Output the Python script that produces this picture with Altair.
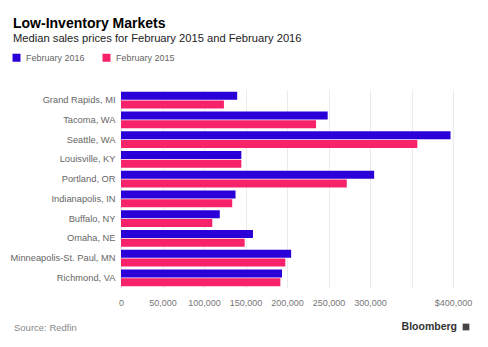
import altair as alt
import pandas as pd

cities = ["Grand Rapids, MI", "Tacoma, WA", "Seattle, WA", "Louisville, KY", "Portland, OR",
          "Indianapolis, IN", "Buffalo, NY", "Omaha, NE", "Minneapolis-St. Paul, MN", "Richmond, VA"]
feb2016 = [140000, 249000, 397000, 145000, 305000, 138000, 119000, 159000, 205000, 194000]
feb2015 = [124000, 235000, 357000, 145000, 272000, 134000, 110000, 149000, 198000, 192000]
series = ["February 2016", "February 2015"]
colors = ["#2b00d8", "#f8226b"]
x_ticks = [0, 50000, 100000, 150000, 200000, 250000, 300000, 350000, 400000]

rows = []
for c, a, b in zip(cities, feb2016, feb2015):
    rows.append({"city": c, "series": series[0], "value": a})
    rows.append({"city": c, "series": series[1], "value": b})
df = pd.DataFrame(rows)

FONT = "Liberation Sans"

bars = alt.Chart(df).mark_bar(size=8).encode(
    x=alt.X("value:Q",
            scale=alt.Scale(domain=[0, 400000], nice=False),
            axis=alt.Axis(values=x_ticks, title=None, domain=False, ticks=False,
                          labelExpr="datum.value == 350000 ? '' : (datum.value == 400000 ? '$400,000' : format(datum.value, ','))",
                          labelColor="#777777", labelFont=FONT, labelFontSize=9, labelPadding=10,
                          grid=True, gridColor="#ebebeb", labelFlush=False)),
    y=alt.Y("city:N", sort=cities,
            scale=alt.Scale(paddingInner=0.13, paddingOuter=0.08),
            axis=alt.Axis(title=None, domain=False, ticks=False, labelColor="#666666",
                          labelFont=FONT, labelFontSize=9.3, labelPadding=6, labelLimit=200)),
    yOffset=alt.YOffset("series:N", sort=series, scale=alt.Scale(paddingInner=0.0)),
    color=alt.Color("series:N", sort=series,
                    scale=alt.Scale(domain=series, range=colors),
                    legend=alt.Legend(title=None, orient="none", legendX=-109, legendY=-37,
                                      direction="horizontal", symbolType="square", symbolSize=64,
                                      symbolStrokeWidth=0, labelFont=FONT, labelFontSize=9,
                                      labelColor="#666666", columnPadding=17, labelOffset=5)),
)

title = alt.Chart(pd.DataFrame({"t": ["Low-Inventory Markets"]})).mark_text(
    align="left", baseline="alphabetic", font=FONT, fontSize=14, fontWeight="bold", color="#000000"
).encode(text="t:N", x=alt.value(-108), y=alt.value(-62))

subtitle = alt.Chart(pd.DataFrame({"t": ["Median sales prices for February 2015 and February 2016"]})).mark_text(
    align="left", baseline="alphabetic", font=FONT, fontSize=11.2, color="#222222"
).encode(text="t:N", x=alt.value(-108), y=alt.value(-48))

source = alt.Chart(pd.DataFrame({"t": ["Source: Redfin"]})).mark_text(
    align="left", baseline="middle", font=FONT, fontSize=9.5, color="#888888"
).encode(text="t:N", x=alt.value(-107), y=alt.value(238))

brand = alt.Chart(pd.DataFrame({"t": ["Bloomberg"]})).mark_text(
    align="right", baseline="middle", font=FONT, fontSize=10.5, fontWeight="bold", color="#333333"
).encode(text="t:N", x=alt.value(336), y=alt.value(237))

icon = alt.Chart(pd.DataFrame({"t": ["i"]})).mark_point(
    shape="square", filled=True, size=45, color="#444444", opacity=1
).encode(x=alt.value(345), y=alt.value(237))

chart = alt.layer(bars, title, subtitle, source, brand, icon).properties(
    width=332, height=198,
    autosize=alt.AutoSizeParams(type="none"),
    padding={"left": 121, "top": 90, "right": 35, "bottom": 59},
    background="white",
).configure_view(stroke=None)

chart.save("out.html", embed_options={"renderer": "svg", "actions": False})
